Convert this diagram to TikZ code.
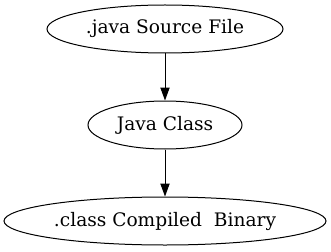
\documentclass[tikz,border=0pt]{standalone}
\usepackage{fontspec}
\setmainfont{DejaVu Serif}
\usetikzlibrary{shapes.geometric,arrows.meta}
\begin{document}
\begin{tikzpicture}[x=1pt,y=-1pt,
  oval/.style={draw,ellipse,line width=1pt,inner sep=0pt,minimum height=48pt,
    font=\fontsize{18.6}{22}\selectfont},
  flow/.style={draw,line width=1pt,-{Triangle[length=13pt,width=9.3pt]}}]
\useasboundingbox (0,0) rectangle (331,251);
\node[oval,minimum width=236pt] (src) at (165,29) {.java Source File};
\node[oval,minimum width=154pt] (cls) at (165,125) {Java Class};
\node[oval,minimum width=322pt] (bin) at (165,221) {.class Compiled\ \ Binary};
\draw[flow] (src.south) -- (cls.north);
\draw[flow] (cls.south) -- (bin.north);
\end{tikzpicture}
\end{document}
